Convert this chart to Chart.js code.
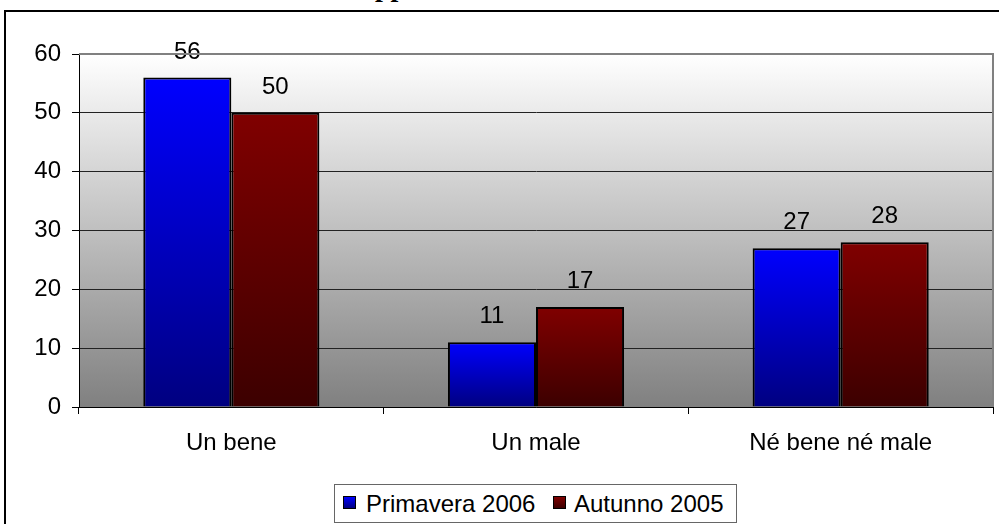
<!DOCTYPE html>
<html>
<head>
<meta charset="utf-8">
<title>Primavera 2006 / Autunno 2005</title>
<script src="https://cdn.jsdelivr.net/npm/chart.js@4.4.1/dist/chart.umd.min.js"></script>
<style>
  html, body { margin: 0; padding: 0; background: #fff; }
  body { width: 999px; height: 524px; overflow: hidden; position: relative; font-family: "Liberation Sans", Arial, sans-serif; }
  #frame { position: absolute; left: 4px; top: 10px; width: 1200px; height: 700px; border: 2px solid #000; box-sizing: border-box; }
  #title { position: absolute; left: 375px; top: -27px; font: bold 28px "Liberation Serif", "Times New Roman", serif; line-height: 28px; color: #000; white-space: nowrap; }
  #chart { position: absolute; left: 0; top: 0; }
  #legend { position: absolute; left: 334px; top: 484px; width: 403px; height: 39px; border: 1px solid #666; box-sizing: border-box; background: #fff; }
  .sw { position: absolute; width: 13px; height: 13px; border: 1px solid #000; box-sizing: border-box; }
  .lt { position: absolute; font-size: 24px; line-height: 24px; color: #000; white-space: nowrap; }
</style>
</head>
<body>
<div id="frame"></div>
<div id="title">pp</div>
<canvas id="chart" width="999" height="524"></canvas>
<div id="legend"></div>
<script>
  const categories = ["Un bene", "Un male", "Né bene né male"];
  const seriesNames = ["Primavera 2006", "Autunno 2005"];
  const primavera2006 = [56, 11, 27];
  const autunno2005 = [50, 17, 28];
  const yTicks = [0, 10, 20, 30, 40, 50, 60];

  // top / bottom colours of each series' vertical gradient
  const shades = [
    ["#0000ff", "#000080"],
    ["#800000", "#3c0000"],
  ];

  function barFill(ctx) {
    const chart = ctx.chart;
    const pair = shades[ctx.datasetIndex];
    const y = chart.scales && chart.scales.y;
    if (!chart.chartArea || !y || ctx.raw == null) return pair[0];
    const top = y.getPixelForValue(ctx.raw);
    const bottom = y.getPixelForValue(0);
    if (!(bottom > top)) return pair[0];
    const g = chart.ctx.createLinearGradient(0, top, 0, bottom);
    g.addColorStop(0, pair[0]);
    g.addColorStop(1, pair[1]);
    return g;
  }

  const plotBackground = {
    id: "plotBackground",
    beforeDraw(chart) {
      const a = chart.chartArea;
      const c = chart.ctx;
      const g = c.createLinearGradient(0, a.top, 0, a.bottom);
      g.addColorStop(0, "#ffffff");
      g.addColorStop(1, "#808080");
      c.save();
      c.fillStyle = g;
      c.fillRect(a.left, a.top, a.right - a.left, a.bottom - a.top);
      c.restore();
    },
    afterDraw(chart) {
      const a = chart.chartArea;
      const c = chart.ctx;
      c.save();
      c.strokeStyle = "#808080";
      c.lineWidth = 2;
      c.beginPath();
      c.moveTo(a.left, a.top);
      c.lineTo(a.right, a.top);
      c.lineTo(a.right, a.bottom);
      c.stroke();
      c.restore();
    },
  };

  const valueLabels = {
    id: "valueLabels",
    afterDatasetsDraw(chart) {
      const c = chart.ctx;
      c.save();
      c.font = '24px "Liberation Sans", Arial, sans-serif';
      c.fillStyle = "#000";
      c.textAlign = "center";
      c.textBaseline = "alphabetic";
      chart.data.datasets.forEach(function (ds, i) {
        const meta = chart.getDatasetMeta(i);
        meta.data.forEach(function (bar, j) {
          c.fillText(String(ds.data[j]), bar.x, bar.y - 19);
        });
      });
      c.restore();
    },
  };

  Chart.defaults.font.family = '"Liberation Sans", Arial, sans-serif';
  Chart.defaults.font.size = 24;
  Chart.defaults.color = "#000";

  function barDataset(i, values) {
    return {
      label: seriesNames[i],
      data: values,
      backgroundColor: barFill,
      borderColor: "#000",
      borderWidth: 2,
      borderSkipped: "bottom",
      categoryPercentage: 0.578,
      barPercentage: 1,
    };
  }

  new Chart(document.getElementById("chart"), {
    type: "bar",
    data: {
      labels: categories,
      datasets: [barDataset(0, primavera2006), barDataset(1, autunno2005)],
    },
    options: {
      responsive: false,
      animation: false,
      layout: { padding: { left: 0, right: 6, top: 54, bottom: 0 } },
      plugins: {
        colors: { enabled: false },
        legend: { display: false },
        tooltip: { enabled: false },
      },
      scales: {
        x: {
          afterFit(s) { s.height = 117; },
          grid: { drawOnChartArea: false, drawTicks: true, tickLength: 7, color: "#000", offset: true },
          border: { display: true, color: "#000", width: 1 },
          ticks: { padding: 15 },
        },
        y: {
          min: 0,
          max: 60,
          afterFit(s) { s.width = 79; },
          afterBuildTicks(s) { s.ticks = yTicks.map(function (v) { return { value: v }; }); },
          grid: {
            tickLength: 7,
            color: function (ctx) { return ctx.tick && ctx.tick.value === 60 ? "#808080" : "#222"; },
            tickColor: "#000",
            lineWidth: 1,
          },
          border: { display: true, color: "#000", width: 1 },
          ticks: { padding: 11 },
        },
      },
    },
    plugins: [plotBackground, valueLabels],
  });

  // legend
  const legendEl = document.getElementById("legend");
  const legendPos = [
    { sw: 8, txt: 31 },
    { sw: 218, txt: 239 },
  ];
  seriesNames.forEach(function (name, i) {
    const sw = document.createElement("span");
    sw.className = "sw";
    sw.style.left = legendPos[i].sw + "px";
    sw.style.top = "11px";
    sw.style.background = "linear-gradient(" + shades[i][0] + ", " + shades[i][1] + ")";
    legendEl.appendChild(sw);
    const t = document.createElement("span");
    t.className = "lt";
    t.style.left = legendPos[i].txt + "px";
    t.style.top = "7px";
    t.textContent = name;
    legendEl.appendChild(t);
  });
</script>
</body>
</html>
